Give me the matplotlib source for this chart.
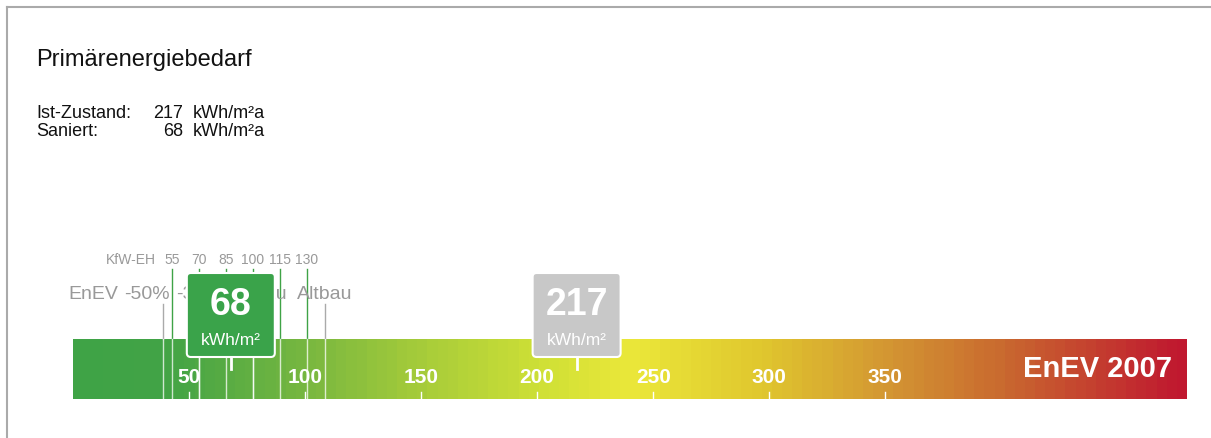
import numpy as np
import matplotlib
matplotlib.use("Agg")
import matplotlib.pyplot as plt
from matplotlib.colors import LinearSegmentedColormap
from matplotlib.patches import FancyBboxPatch
from matplotlib.lines import Line2D

plt.rcParams['font.family'] = ['Liberation Sans', 'DejaVu Sans']

# data
title = "Primärenergiebedarf"
ist_wert = 217
saniert_wert = 68
einheit = "kWh/m²"
scale_max = 480
scale_ticks = [50, 100, 150, 200, 250, 300, 350]
neubau_ref = 77.5
kfw_levels = [55, 70, 85, 100, 115, 130]
enev_labels = ["-50%", "-30%", "Neubau", "Altbau"]
enev_factors = [0.5, 0.7, 1.0, 1.4]
grad_pos = [0.0, 0.08, 0.21, 0.31, 0.42, 0.50, 0.62, 0.73, 0.84, 1.0]
grad_col = ["#3fa346", "#42a446", "#7ab840", "#a6cc3a", "#cfe036", "#ebe83a",
            "#e0c72e", "#d49833", "#c9692f", "#c0182f"]

W, H = 1211, 439
fig = plt.figure(figsize=(W / 100, H / 100), dpi=100)

# border of the panel
grey = "#aaaaaa"
fig.add_artist(Line2D([6.5 / W, 1], [1 - 7.5 / H, 1 - 7.5 / H], color=grey, lw=1.5, transform=fig.transFigure))
fig.add_artist(Line2D([6.5 / W, 6.5 / W], [0, 1 - 7.5 / H], color=grey, lw=1.5, transform=fig.transFigure))

# header
dark = "#111111"
fig.text(36 / W, 1 - 60 / H, title, fontsize=17, va="center", ha="left", color=dark)
rows = [("Ist-Zustand:", ist_wert, 113), ("Saniert:", saniert_wert, 131)]
for lab, val, yy in rows:
    fig.text(36 / W, 1 - yy / H, lab, fontsize=13, va="center", color=dark)
    fig.text(183 / W, 1 - yy / H, str(val), fontsize=13, va="center", ha="right", color=dark)
    fig.text(193 / W, 1 - yy / H, einheit + "a", fontsize=13, va="center", color=dark)

# scale axes: x in kWh/m², y in pixels from top
x0, x1, ytop, ybot = 73, 1187, 240, 400
ax = fig.add_axes([x0 / W, 1 - ybot / H, (x1 - x0) / W, (ybot - ytop) / H])
ax.set_xlim(0, scale_max)
ax.set_ylim(ybot, ytop)
ax.axis("off")
pxu = (x1 - x0) / scale_max

cmap = LinearSegmentedColormap.from_list("enev", list(zip(grad_pos, grad_col)))
steps = np.linspace(0, 1, 110)[None, :]
ax.imshow(steps, cmap=cmap, extent=(0, scale_max, 400, 340), aspect="auto", interpolation="nearest", zorder=1)

for t in scale_ticks:
    ax.plot([t, t], [393, 400], color="white", lw=1, zorder=3)
    ax.text(t, 378, str(t), color="white", fontsize=15, fontweight="bold", ha="center", va="center", zorder=3)

ax.text(473.5, 369, "EnEV 2007", color="white", fontsize=21, fontweight="bold", ha="right", va="center", zorder=3)

# KfW lines
green = "#3fa346"
ax.text(35.5, 260, "KfW-EH", color="#999999", fontsize=10, ha="right", va="center")
for k in kfw_levels:
    v = neubau_ref * k / 100
    ax.plot([v, v], [270, 340], color=green, lw=1, zorder=2)
    ax.plot([v, v], [340, 400], color="white", lw=1, alpha=0.75, zorder=2)
    ax.text(v, 260, str(k), color="#999999", fontsize=10, ha="center", va="center")

# EnEV lines
ax.text(19.5, 295, "EnEV", color="#999999", fontsize=14, ha="right", va="center")
for lab, f in zip(enev_labels, enev_factors):
    v = neubau_ref * f
    ax.plot([v, v], [305, 340], color=grey, lw=1, zorder=2)
    ax.plot([v, v], [340, 400], color="white", lw=1, alpha=0.75, zorder=2)
    xl = v - 7 if lab == "-50%" else v
    ax.text(xl, 295, lab, color="#999999", fontsize=14, ha="center", va="center", zorder=2)

# value markers
bw = 88 / pxu
for val, col in [(saniert_wert, "#3aa34a"), (ist_wert, "#c8c8c8")]:
    box = FancyBboxPatch((val - bw / 2, 274), bw, 84,
                         boxstyle="round,pad=0,rounding_size=%.2f" % (4 / pxu),
                         mutation_aspect=pxu, facecolor=col, edgecolor="white", lw=1.5, zorder=5)
    ax.add_patch(box)
    ax.plot([val, val], [358, 370], color="white", lw=2, zorder=4)
    ax.text(val, 305, str(val), color="white", fontsize=27, fontweight="bold", ha="center", va="center", zorder=6)
    ax.text(val, 341, einheit, color="white", fontsize=12.5, ha="center", va="center", zorder=6)

fig.savefig("out.png", dpi=100)
